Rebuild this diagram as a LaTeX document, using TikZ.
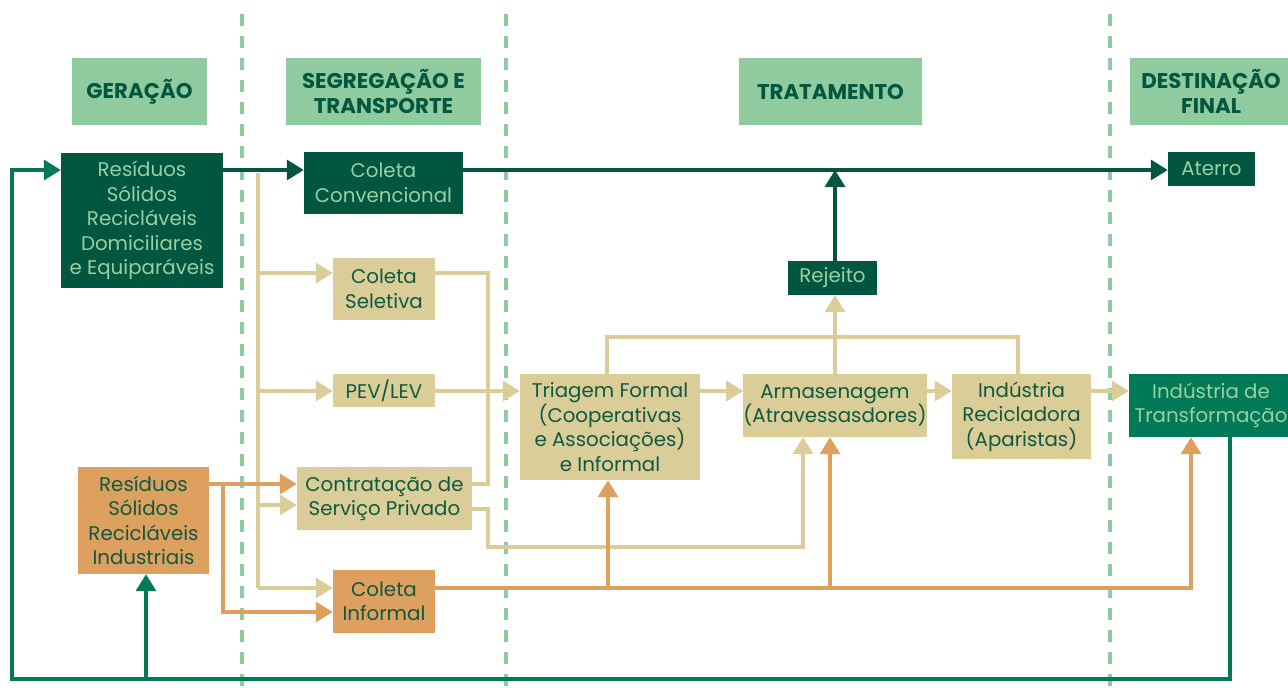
\documentclass[tikz,border=0pt]{standalone}
\usepackage{fontspec}
\setmainfont{Poppins}
\usetikzlibrary{arrows.meta}

\definecolor{dkgreen}{HTML}{00563F}
\definecolor{mdgreen}{HTML}{007A56}
\definecolor{ltgreen}{HTML}{8FCB9F}
\definecolor{pale}{HTML}{98D0A6}
\definecolor{tan}{HTML}{DBCD98}
\definecolor{ochre}{HTML}{DDA05F}
\definecolor{ink}{HTML}{0E5A40}

\tikzset{
  x=1pt, y=-1pt,
  box/.style={inner sep=0pt, align=center, font=\fontsize{19.8}{24.5}\selectfont},
  head/.style={fill=ltgreen, text=dkgreen, inner sep=0pt, align=center,
    minimum height=67pt, font=\fontsize{21.3}{25}\selectfont\bfseries},
  darkbox/.style={box, fill=dkgreen, text=pale},
  tanbox/.style={box, fill=tan, text=ink},
  ochrebox/.style={box, fill=ochre, text=ink},
  greenbox/.style={box, fill=mdgreen, text=pale},
  tip/.style={-{Triangle[length=17pt,width=20pt]}},
  dkflow/.style={draw=dkgreen, line width=3.5pt},
  mdflow/.style={draw=mdgreen, line width=3.5pt},
  tanflow/.style={draw=tan, line width=3.5pt},
  ochreflow/.style={draw=ochre, line width=3.5pt},
  stage/.style={draw=ltgreen, line width=3.5pt, dash pattern=on 12pt off 10pt},
}

\begin{document}
\begin{tikzpicture}
\useasboundingbox (0,0) rectangle (1288,688);
\clip (0,0) rectangle (1288,688);

% stage separators
\draw[stage] (242,14) -- (242,688);
\draw[stage] (506,14) -- (506,688);
\draw[stage] (1110,14) -- (1110,688);

% stage headings
\node[head, minimum width=135pt] (hger) at (139.5,91.5) {GERAÇÃO};
\node[head, minimum width=195pt] (hseg) at (383.5,91.5) {SEGREGAÇÃO E\\TRANSPORTE};
\node[head, minimum width=183pt] (htra) at (830.5,91.5) {TRATAMENTO};
\node[head, minimum width=162pt] (hdes) at (1211,91.5) {DESTINAÇÃO\\FINAL};

% process boxes
\node[darkbox, minimum width=162pt, minimum height=135pt] (dom) at (142,220.5)
  {Resíduos\\Sólidos\\Recicláveis\\Domiciliares\\e Equiparáveis};
\node[darkbox, minimum width=159pt, minimum height=62pt] (conv) at (383.5,183)
  {Coleta\\Convencional};
\node[darkbox, minimum width=87pt, minimum height=34pt] (aterro) at (1211.5,169) {Aterro};
\node[tanbox, minimum width=102pt, minimum height=62pt] (sel) at (384,289) {Coleta\\Seletiva};
\node[tanbox, minimum width=102pt, minimum height=33pt] (pev) at (384,390.5) {PEV/LEV};
\node[tanbox, minimum width=175pt, minimum height=63pt] (contr) at (384.5,498.5)
  {Contratação de\\Serviço Privado};
\node[ochrebox, minimum width=102pt, minimum height=63pt] (inf) at (384,601.5) {Coleta\\Informal};
\node[ochrebox, minimum width=131pt, minimum height=107pt] (ind) at (143.5,520.5)
  {Resíduos\\Sólidos\\Recicláveis\\Industriais};
\node[tanbox, minimum width=180pt, minimum height=106pt] (tri) at (610,427)
  {Triagem Formal\\(Cooperativas\\e Associações)\\e Informal};
\node[tanbox, minimum width=180pt, minimum height=63pt] (arm) at (835,405.5)
  {Armasenagem\\(Atravessasdores)};
\node[darkbox, minimum width=89pt, minimum height=34pt] (rej) at (832.5,278) {Rejeito};
\node[tanbox, minimum width=139pt, minimum height=85pt] (rec) at (1021.5,416.5)
  {Indústria\\Recicladora\\(Aparistas)};
\node[greenbox, minimum width=164pt, minimum height=63pt] (tra) at (1211,405.5)
  {Indústria de\\Transformação};

% routing rows and columns
\coordinate (rTop) at (0,170);
\coordinate (rSel) at (0,273);
\coordinate (rMid) at (0,337);
\coordinate (rPev) at (0,391);
\coordinate (rC1) at (0,484);
\coordinate (rC2) at (0,505);
\coordinate (rC3) at (0,509);
\coordinate (rLow) at (0,547);
\coordinate (rI1) at (0,588);
\coordinate (rI2) at (0,612);
\coordinate (rBot) at (0,679);
\coordinate (trunk) at (258,173);
\coordinate (cLeft) at (12,0);
\coordinate (cFork) at (223,0);
\coordinate (cJoin) at (488,0);
\coordinate (cTri) at (607,0);
\coordinate (cTriO) at (608,0);
\coordinate (cArmT) at (803,0);
\coordinate (cArmO) at (830,0);
\coordinate (cRec) at (1018,0);
\coordinate (cTraO) at (1191,0);
\coordinate (cTraG) at (1230,0);
\coordinate (cInd) at (146,0);

% return loop from industry back to generation
\draw[mdflow, tip] (tra.south -| cTraG) -- (cTraG |- rBot) -- (cLeft |- rBot)
  -- (cLeft |- rTop) -- (dom.west |- rTop);
\draw[mdflow, tip] (cInd |- rBot) -- (cInd |- ind.south);

% selective collection flows
\draw[tanflow] (trunk) -- (trunk |- rI1);
\draw[tanflow, tip] (trunk |- rSel) -- (sel.west |- rSel);
\draw[tanflow, tip] (trunk |- rPev) -- (pev.west |- rPev);
\draw[tanflow, tip] (trunk |- rC2) -- (contr.west |- rC2);
\draw[tanflow, tip] (trunk |- rI1) -- (inf.west |- rI1);
\draw[tanflow] (sel.east |- rSel) -- (cJoin |- rSel) -- (cJoin |- rC1) -- (contr.east |- rC1);
\draw[tanflow, tip] (pev.east |- rPev) -- (tri.west |- rPev);
\draw[tanflow, tip] (contr.east |- rC3) -- (cJoin |- rC3) -- (cJoin |- rLow)
  -- (cArmT |- rLow) -- (cArmT |- arm.south);
\draw[tanflow, tip] (tri.east |- rPev) -- (arm.west |- rPev);
\draw[tanflow, tip] (arm.east |- rPev) -- (rec.west |- rPev);
\draw[tanflow, tip] (rec.east |- rPev) -- (tra.west |- rPev);
\draw[tanflow] (cTri |- tri.north) -- (cTri |- rMid) -- (cRec |- rMid) -- (cRec |- rec.north);
\draw[tanflow, tip] (arm.north) -- (arm.north |- rej.south);

% industrial flows
\draw[ochreflow, tip] (ind.east |- rC1) -- (contr.west |- rC1);
\draw[ochreflow, tip] (cFork |- rC1) -- (cFork |- rI2) -- (inf.west |- rI2);
\draw[ochreflow, tip] (inf.east |- rI1) -- (cTraO |- rI1) -- (cTraO |- tra.south);
\draw[ochreflow, tip] (cTriO |- rI1) -- (cTriO |- tri.south);
\draw[ochreflow, tip] (cArmO |- rI1) -- (cArmO |- arm.south);

% conventional collection to landfill
\draw[dkflow, tip] (dom.east |- rTop) -- (conv.west |- rTop);
\draw[dkflow, tip] (conv.east |- rTop) -- (aterro.west |- rTop);
\draw[dkflow, tip] (arm.north |- rej.north) -- (arm.north |- rTop);
\end{tikzpicture}
\end{document}
